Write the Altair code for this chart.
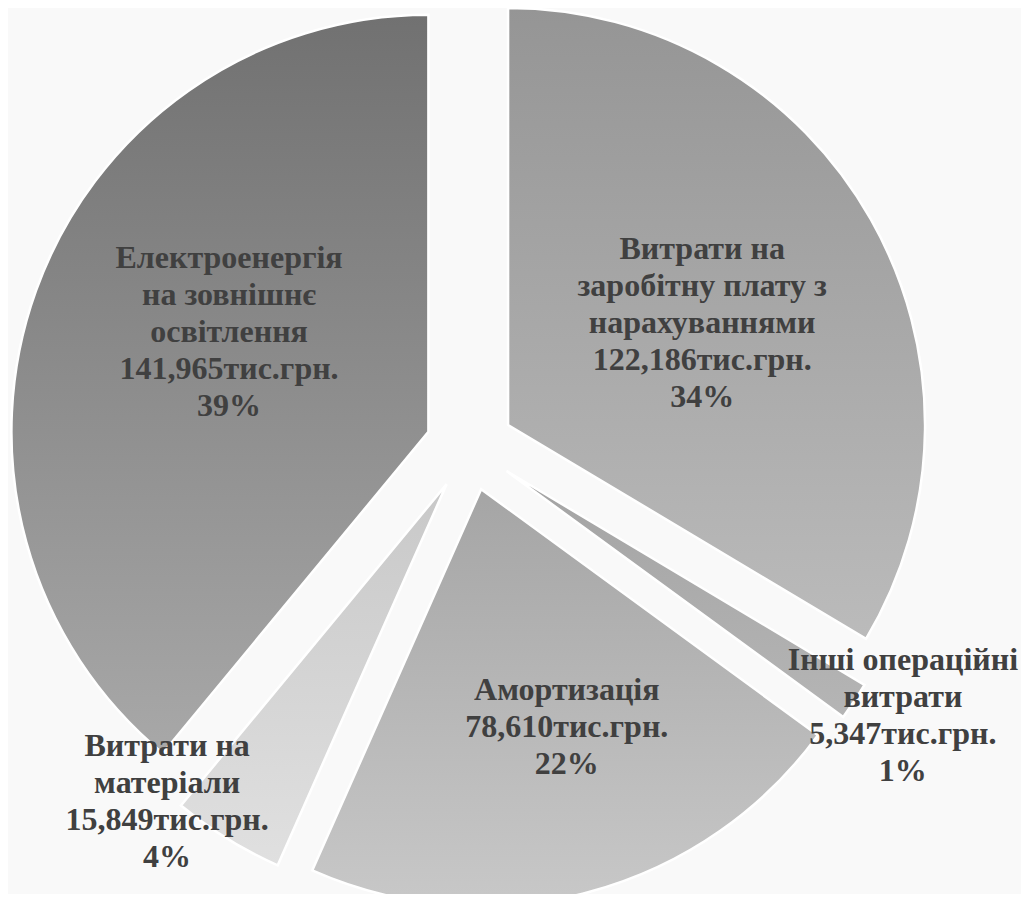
import altair as alt
import pandas as pd
import numpy as np

# ---- data ----
names = [
    ["Витрати на", "заробітну плату з", "нарахуваннями"],
    ["Інші операційні", "витрати"],
    ["Амортизація"],
    ["Витрати на", "матеріали"],
    ["Електроенергія", "на зовнішнє", "освітлення"],
]
values = [122.186, 5.347, 78.610, 15.849, 141.965]
unit = "тис.грн."

# ---- style ----
W, H = 1013, 886
R = 417.0                      # pie radius, px
CX, CY = 461.8, 438.7          # pie centre inside plot, px
EXPLODE = 44.0 / R             # slice explosion (radius units)
LINE_H = 37.0                  # label line height, px
label_r = [0.631, 1.222, 0.7115, 1.119, 0.6396]
label_nudge_deg = [1.6, -1.7, -4.1, 8.7, 5.7]
grads = [
    ("#959595", "#bbbbbb"),
    ("#a3a3a3", "#b5b5b5"),
    ("#a5a5a5", "#c8c8c8"),
    ("#c8c8c8", "#e0e0e0"),
    ("#717171", "#a8a8a8"),
]

vals = np.array(values)
frac = vals / vals.sum()
end = np.cumsum(frac) * 2 * np.pi
start = end - frac * 2 * np.pi
mid = (start + end) / 2
lang = mid + np.radians(label_nudge_deg)

lines = []
for n, v, f in zip(names, values, frac):
    lines.append(n + [f"{v:.3f}".replace(".", ",") + unit, f"{round(f * 100)}%"])
nlines = np.array([len(l) for l in lines])

df = pd.DataFrame({
    "idx": list(range(len(values))),
    "start": start,
    "end": end,
    "cx": EXPLODE * np.sin(mid),
    "cy": EXPLODE * np.cos(mid),
    "lx": np.array(label_r) * np.sin(lang),
    # first line sits at the anchor: lift the block so it is centred
    "ly": np.array(label_r) * np.cos(lang) + (nlines - 1) / 2 * LINE_H / R,
    "lines": lines,
})

xs = alt.Scale(domain=[-CX / R, (W - CX) / R], nice=False, zero=False)
ys = alt.Scale(domain=[-(H - CY) / R, CY / R], nice=False, zero=False)

base = alt.Chart(df)
layers = []
for i, (c0, c1) in enumerate(grads):
    layers.append(
        base.transform_filter(alt.datum.idx == i)
        .mark_arc(
            radius=R,
            stroke="white",
            strokeWidth=2.5,
            fill=alt.LinearGradient(
                gradient="linear",
                stops=[alt.GradientStop(color=c0, offset=0), alt.GradientStop(color=c1, offset=1)],
                x1=0, x2=0, y1=0, y2=1,
            ),
        )
        .encode(
            x=alt.X("cx:Q", scale=xs, axis=None),
            y=alt.Y("cy:Q", scale=ys, axis=None),
            theta=alt.Theta("start:Q", scale=None),
            theta2=alt.Theta2("end:Q"),
        )
    )

text = base.mark_text(
    font="Liberation Serif",
    fontWeight="bold",
    fontSize=32,
    lineHeight=LINE_H,
    color="#404040",
    align="center",
    baseline="middle",
).encode(
    x=alt.X("lx:Q", scale=xs, axis=None),
    y=alt.Y("ly:Q", scale=ys, axis=None),
    text="lines",
)

chart = alt.layer(*layers, text).properties(
    width=W, height=H, padding=0, autosize=alt.AutoSizeParams(type="none"),
    background="#f9f9f9",
).configure_view(strokeWidth=0)

chart.save("out.html", embed_options={"renderer": "svg", "actions": False})
